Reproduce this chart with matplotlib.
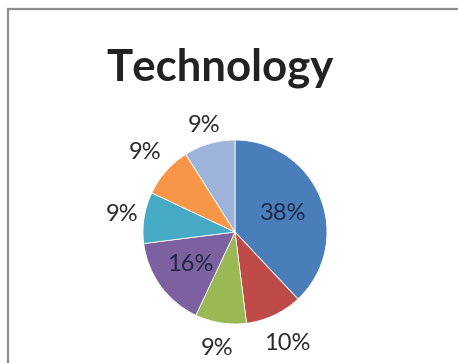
import matplotlib
matplotlib.use("Agg")
import numpy as np
import matplotlib.pyplot as plt
from matplotlib.patches import Rectangle

# slice data, clockwise from 12 o'clock
values = [38, 10, 9, 16, 9, 9, 9]
labels = ["38%", "10%", "9%", "16%", "9%", "9%", "9%"]
colors = ["#4a7ebb", "#be4b48", "#98b954", "#7d60a0", "#46aac5", "#f79646", "#9db3d9"]
# how far from the centre each label sits (in radii)
label_dist = [0.56, 1.34, 1.28, 0.60, 1.24, 1.30, 1.20]

W, H = 458, 363
fig = plt.figure(figsize=(W / 100, H / 100), dpi=100)
fig.patch.set_facecolor("white")

# chart border (top and left visible, the rest runs off the image)
fig.patches.append(Rectangle((8 / W, -0.05), 1.1, 1 - 9 / H + 0.05,
                             transform=fig.transFigure, fill=False,
                             edgecolor="#8c8c8c", linewidth=1.6))

fig.text(220 / W, 1 - 81 / H, "Technology", ha="center", va="baseline",
         fontsize=31.5, fontweight="bold", family="Lato", color="#222222")

cx, cy, r = 235, 232, 92
ax = fig.add_axes([(cx - r) / W, (H - cy - r) / H, 2 * r / W, 2 * r / H])
wedges, texts = ax.pie(values, colors=colors, startangle=90, counterclock=False,
                       labels=labels, radius=1,
                       wedgeprops=dict(edgecolor="white", linewidth=0.6))
ax.set_xlim(-1, 1)
ax.set_ylim(-1, 1)

for w, t, d in zip(wedges, texts, label_dist):
    ang = np.deg2rad((w.theta1 + w.theta2) / 2)
    t.set_position((d * np.cos(ang), d * np.sin(ang)))
    t.set_ha("center")
    t.set_va("center")
    t.set_fontsize(17)
    t.set_family("Lato")
    t.set_color("#2b2b2b" if d > 1 else "#1f2a44")

fig.savefig("out.png", dpi=100, facecolor="white")
